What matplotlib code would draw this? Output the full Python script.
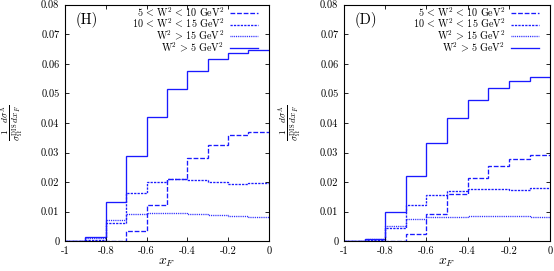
import matplotlib
matplotlib.use('Agg')
import matplotlib.pyplot as plt
import numpy as np

plt.rcParams['font.family'] = 'cmr10'
plt.rcParams['mathtext.fontset'] = 'cm'
plt.rcParams['axes.unicode_minus'] = False

# bin edges in x_F
edges = [-1.0, -0.9, -0.8, -0.7, -0.6, -0.5, -0.4, -0.3, -0.2, -0.1, 0.0]

# panel (H)
h_w5_10 = [0, 0, 0, 0.0034, 0.0124, 0.0212, 0.0280, 0.0327, 0.0358, 0.0368]
h_w10_15 = [0, 0.0003, 0.0061, 0.0165, 0.0202, 0.0210, 0.0207, 0.0202, 0.0195, 0.0198]
h_w15 = [0, 0.0010, 0.0072, 0.0091, 0.0096, 0.0095, 0.0091, 0.0089, 0.0087, 0.0081]
h_all = [0, 0.00135, 0.0133, 0.0290, 0.0421, 0.0515, 0.0577, 0.0616, 0.0637, 0.0648]

# panel (D)
d_w5_10 = [0, 0, 0, 0.0024, 0.0091, 0.0159, 0.0215, 0.0256, 0.0279, 0.0291]
d_w10_15 = [0, 0.0003, 0.0044, 0.0124, 0.0158, 0.0170, 0.0178, 0.0178, 0.0175, 0.0180]
d_w15 = [0, 0.0007, 0.0053, 0.0074, 0.0081, 0.0083, 0.0086, 0.0087, 0.0087, 0.0083]
d_all = [0, 0.0009, 0.0099, 0.0222, 0.0332, 0.0418, 0.0478, 0.0517, 0.0541, 0.0554]

labels = [r'$5\,<\,\mathrm{W}^2\,<\,10\ \mathrm{GeV}^2$',
          r'$10\,<\,\mathrm{W}^2\,<\,15\ \mathrm{GeV}^2$',
          r'$\mathrm{W}^2\,>\,15\ \mathrm{GeV}^2$',
          r'$\mathrm{W}^2\,>\,5\ \mathrm{GeV}^2$']
styles = [(0, (3.6, 1.4)), (0, (1.7, 0.9)), (0, (0.7, 0.7)), '-']

xticks = [-1, -0.8, -0.6, -0.4, -0.2, 0]
xticklabels = ['-1', '-0.8', '-0.6', '-0.4', '-0.2', '0']
yticks = [0, 0.01, 0.02, 0.03, 0.04, 0.05, 0.06, 0.07, 0.08]
yticklabels = ['0', '0.01', '0.02', '0.03', '0.04', '0.05', '0.06', '0.07', '0.08']

fig = plt.figure(figsize=(5.54, 2.71), dpi=100)
ax1 = fig.add_axes([0.1173, 0.1096, 0.368, 0.873])
ax2 = fig.add_axes([0.621, 0.1096, 0.372, 0.873])

panels = [(ax1, 'H', [h_w5_10, h_w10_15, h_w15, h_all], -0.19),
          (ax2, 'D', [d_w5_10, d_w10_15, d_w15, d_all], -0.194)]

for ax, tag, series, ylx in panels:
    for vals, ls, lab in zip(series, styles, labels):
        ax.stairs(vals, edges, color='#1a1aff', linestyle=ls, linewidth=0.95,
                  label=lab, baseline=None)
    ax.set_xlim(-1, 0)
    ax.set_ylim(0, 0.08)
    ax.set_xticks(xticks)
    ax.set_xticklabels(xticklabels)
    ax.set_yticks(yticks)
    ax.set_yticklabels(yticklabels)
    ax.tick_params(direction='in', length=3, width=0.6, labelsize=7.5,
                   top=True, right=True, pad=4)
    for s in ax.spines.values():
        s.set_linewidth(0.8)
    ax.set_xlabel(r'$x_F$', fontsize=10)
    ax.xaxis.set_label_coords(0.5, -0.065)
    ax.set_ylabel(r'$\frac{1}{\sigma_\Omega^{\rm DIS}}\frac{d\sigma^\Lambda}{dx_F}$',
                  fontsize=9.5)
    ax.yaxis.set_label_coords(ylx, 0.5)
    ax.text(0.05, 0.935, '(' + tag + ')', transform=ax.transAxes,
            fontsize=10.5, va='center', ha='left')
    ax.legend(loc='upper right', bbox_to_anchor=(0.948, 0.998),
              markerfirst=False, frameon=False,
              fontsize=7.3, handlelength=2.8, handletextpad=0.55,
              labelspacing=-0.18, borderaxespad=0.0, borderpad=0.0)

fig.savefig('out.png', dpi=100)
